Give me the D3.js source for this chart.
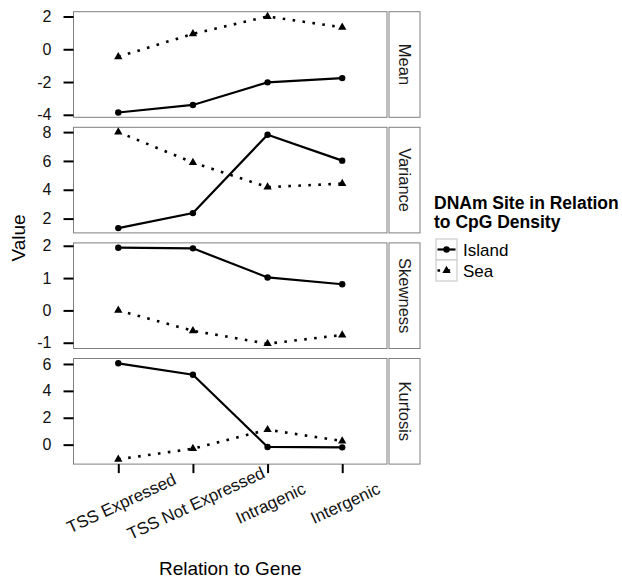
<!DOCTYPE html>
<html>
<head>
<meta charset="utf-8">
<script src="https://d3js.org/d3.v7.min.js"></script>
<style>
  html, body { margin: 0; padding: 0; background: #fff; }
  svg { display: block; font-family: "Liberation Sans", Arial, Helvetica, sans-serif; }
</style>
</head>
<body>
<svg id="chart" width="622" height="581"></svg>
<script>
// ---- data ----
const categories = ["TSS Expressed", "TSS Not Expressed", "Intragenic", "Intergenic"];
const facets = ["Mean", "Variance", "Skewness", "Kurtosis"];
const seriesNames = ["Island", "Sea"];

const islandMean     = [-3.86, -3.40, -2.02, -1.76];
const seaMean        = [-0.46,  0.94,  2.00,  1.34];
const islandVariance = [ 1.34,  2.38,  7.82,  6.02];
const seaVariance    = [ 8.00,  5.89,  4.18,  4.43];
const islandSkewness = [ 1.94,  1.92,  1.02,  0.81];
const seaSkewness    = [ 0.00, -0.63, -1.03, -0.76];
const islandKurtosis = [ 6.05,  5.20, -0.17, -0.20];
const seaKurtosis    = [-1.09, -0.30,  1.11,  0.27];

const ticksMean     = [-4, -2, 0, 2];
const ticksVariance = [2, 4, 6, 8];
const ticksSkewness = [-1, 0, 1, 2];
const ticksKurtosis = [0, 2, 4, 6];

const xTitle = "Relation to Gene";
const yTitle = "Value";
const legendTitle = ["DNAm Site in Relation", "to CpG Density"];

// ---- assemble ----
const panelData = [
  { name: facets[0], island: islandMean,     sea: seaMean,     ticks: ticksMean },
  { name: facets[1], island: islandVariance, sea: seaVariance, ticks: ticksVariance },
  { name: facets[2], island: islandSkewness, sea: seaSkewness, ticks: ticksSkewness },
  { name: facets[3], island: islandKurtosis, sea: seaKurtosis, ticks: ticksKurtosis }
];

const svg = d3.select("#chart");
const left = 73.5, right = 387;
const stripL = 389, stripR = 420;
const top0 = 11.7, panelH = 105.6, gap = 10;

const x = d3.scalePoint().domain(categories).range([left, right]).padding(0.6);

const lineGen = (y) => d3.line().x((d, i) => x(categories[i])).y(d => y(d));
const tri = d3.symbol().type(d3.symbolTriangle).size(30);

panelData.forEach((p, k) => {
  const t = top0 + k * (panelH + gap);
  const b = t + panelH;
  const all = p.island.concat(p.sea);
  const [mn, mx] = d3.extent(all);
  const pad = (mx - mn) * 0.05;
  const y = d3.scaleLinear().domain([mn - pad, mx + pad]).range([b, t]);

  const g = svg.append("g");
  g.append("rect").attr("x", left).attr("y", t).attr("width", right - left).attr("height", panelH)
    .attr("fill", "#fff").attr("stroke", "#7f7f7f").attr("stroke-width", 1);

  // strip
  g.append("rect").attr("x", stripL).attr("y", t).attr("width", stripR - stripL).attr("height", panelH)
    .attr("fill", "#fff").attr("stroke", "#7f7f7f").attr("stroke-width", 1);
  g.append("text")
    .attr("transform", `translate(${(stripL + stripR) / 2},${t + panelH / 2}) rotate(90)`)
    .attr("text-anchor", "middle").attr("dy", "0.35em")
    .attr("font-size", 16.5).attr("fill", "#1a1a1a").text(p.name);

  // y axis
  const axis = d3.axisLeft(y).tickValues(p.ticks).tickSize(10).tickPadding(12).tickFormat(d3.format("d"));
  const ag = g.append("g").attr("transform", `translate(${left},0)`).call(axis);
  ag.select(".domain").remove();
  ag.selectAll(".tick line").attr("stroke", "#000").attr("stroke-width", 2);
  ag.selectAll(".tick text").attr("font-size", 16).attr("fill", "#111")
    .attr("font-family", "'Liberation Sans', Arial, sans-serif")
    .text(d => d < 0 ? "-" + Math.abs(d) : d);

  // sea (dotted + triangles)
  g.append("path").datum(p.sea).attr("d", lineGen(y)).attr("fill", "none")
    .attr("stroke", "#000").attr("stroke-width", 2.6).attr("stroke-dasharray", "2.6,7.4");
  g.selectAll(".tri").data(p.sea).enter().append("path")
    .attr("d", tri).attr("transform", (d, i) => `translate(${x(categories[i])},${y(d)})`).attr("fill", "#000");

  // island (solid + circles)
  g.append("path").datum(p.island).attr("d", lineGen(y)).attr("fill", "none")
    .attr("stroke", "#000").attr("stroke-width", 2.2);
  g.selectAll(".dot").data(p.island).enter().append("circle")
    .attr("cx", (d, i) => x(categories[i])).attr("cy", d => y(d)).attr("r", 3.2).attr("fill", "#000");

  // x axis on last panel
  if (k === panelData.length - 1) {
    const xa = d3.axisBottom(x).tickSize(9).tickFormat("");
    const xg = g.append("g").attr("transform", `translate(0,${b})`).call(xa);
    xg.select(".domain").remove();
    xg.selectAll(".tick line").attr("stroke", "#000").attr("stroke-width", 2);
    g.selectAll(".xlab").data(categories).enter().append("text")
      .attr("transform", d => `translate(${x(d) + 3},${b + 39}) rotate(-25)`)
      .attr("text-anchor", "middle").attr("dy", "0.35em")
      .attr("font-size", 17).attr("fill", "#111").text(d => d);
  }
});

// axis titles
svg.append("text").attr("x", (left + right) / 2).attr("y", 575).attr("text-anchor", "middle")
  .attr("font-size", 19).attr("fill", "#000").text(xTitle);
svg.append("text").attr("transform", `translate(25,${top0 + (4 * panelH + 3 * gap) / 2}) rotate(-90)`)
  .attr("text-anchor", "middle").attr("font-size", 19).attr("fill", "#000").text(yTitle);

// legend
const lg = svg.append("g");
legendTitle.forEach((s, i) => {
  lg.append("text").attr("x", 434).attr("y", 208.5 + i * 19).attr("font-size", 17.5)
    .attr("font-weight", "bold").attr("fill", "#000").text(s);
});
seriesNames.forEach((s, i) => {
  const ky = 239 + i * 21, kx = 436, ks = 21;
  lg.append("rect").attr("x", kx).attr("y", ky).attr("width", ks).attr("height", ks)
    .attr("fill", "#fff").attr("stroke", "#cccccc").attr("stroke-width", 1.2);
  const cy = ky + ks / 2;
  const ln = lg.append("line").attr("x1", kx + 1.5).attr("x2", kx + ks - 1.5).attr("y1", cy).attr("y2", cy)
    .attr("stroke", "#000");
  if (i === 0) {
    ln.attr("stroke-width", 2.2);
    lg.append("circle").attr("cx", kx + ks / 2).attr("cy", cy).attr("r", 3.2).attr("fill", "#000");
  } else {
    ln.attr("stroke-width", 2.6).attr("stroke-dasharray", "2.6,7.4");
    lg.append("path").attr("d", tri).attr("transform", `translate(${kx + ks / 2},${cy})`).attr("fill", "#000");
  }
  lg.append("text").attr("x", 463).attr("y", cy + 6).attr("font-size", 17).attr("fill", "#000").text(s);
});
</script>
</body>
</html>
